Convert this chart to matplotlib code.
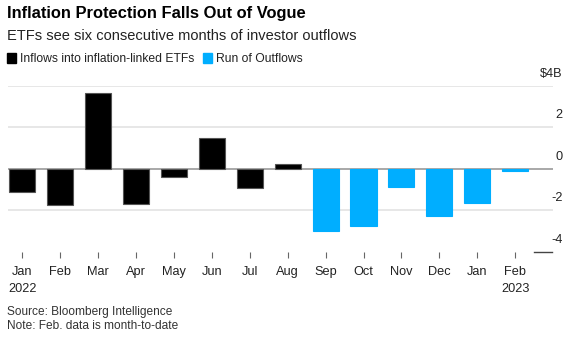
import matplotlib.pyplot as plt
import numpy as np

plt.rcParams['font.family'] = ['Liberation Sans', 'DejaVu Sans']

# Monthly net flows into inflation-linked ETFs, $ billions
months = ['Jan', 'Feb', 'Mar', 'Apr', 'May', 'Jun', 'Jul',
          'Aug', 'Sep', 'Oct', 'Nov', 'Dec', 'Jan', 'Feb']
years = ['2022', '', '', '', '', '', '', '', '', '', '', '', '', '2023']
flows = [-1.12, -1.76, 3.65, -1.68, -0.40, 1.49, -0.91,
         0.21, -3.00, -2.74, -0.86, -2.27, -1.63, -0.10]
# last six months are the outflow streak
outflow_run = [False] * 8 + [True] * 6

yticks = [4, 2, 0, -2, -4]
ylabels = ['$4B', '2', '0', '-2', '-4']

black = '#000000'
blue = '#00aeff'

fig = plt.figure(figsize=(5.68, 3.37), dpi=100)
ax = fig.add_axes([8 / 568, 1 - 251.7 / 337, 545 / 568, 166 / 337])

x = np.arange(len(flows))
colors = [blue if r else black for r in outflow_run]
edges = [blue if r else '#555555' for r in outflow_run]
ax.bar(x, flows, width=0.69, color=colors, edgecolor=edges, linewidth=0.8, zorder=3)

ax.set_xlim(-0.38, 14.0)
ax.set_ylim(-4, 4)

# gridlines and the zero line
for v in [4, 2, -2]:
    ax.axhline(v, color='#e3e3e3', linewidth=1.2, zorder=1)
ax.axhline(0, color='#999999', linewidth=1.2, zorder=2)
ax.plot([13.5, 13.98], [-4, -4], color='#444444', linewidth=1.0, clip_on=False)

for sp in ax.spines.values():
    sp.set_visible(False)

ax.set_yticks([])
ax.set_xticks(x)
ax.set_xticklabels([m + '\n' + y for m, y in zip(months, years)],
                   fontsize=9.2, color='#222222', linespacing=1.55, va='top')
ax.tick_params(axis='x', length=4.5, width=0.8, color='#666666', pad=6)

# value labels sit just above each gridline at the right edge
for v, s in zip(yticks, ylabels):
    ax.text(1.018, (v + 4) / 8 + 0.035, s, transform=ax.transAxes,
            ha='right', va='bottom', fontsize=9.2, color='#222222')

fig.text(7 / 568, 1 - 6 / 337, 'Inflation Protection Falls Out of Vogue',
         fontsize=11.9, fontweight='bold', ha='left', va='top')
fig.text(7 / 568, 1 - 29 / 337, 'ETFs see six consecutive months of investor outflows',
         fontsize=10.55, color='#222222', ha='left', va='top')

# legend
fig.patches.append(plt.Rectangle((7 / 568, 1 - 62.5 / 337), 9 / 568, 9 / 337,
                                 transform=fig.transFigure, color=black))
fig.text(20 / 568, 1 - 58.5 / 337, 'Inflows into inflation-linked ETFs',
         fontsize=8.75, color='#222222', ha='left', va='center')
fig.patches.append(plt.Rectangle((203 / 568, 1 - 62.5 / 337), 9 / 568, 9 / 337,
                                 transform=fig.transFigure, color=blue))
fig.text(216 / 568, 1 - 58.5 / 337, 'Run of Outflows',
         fontsize=8.75, color='#222222', ha='left', va='center')

fig.text(7 / 568, 1 - 312 / 337, 'Source: Bloomberg Intelligence',
         fontsize=8.6, color='#333333', ha='left', va='center')
fig.text(7 / 568, 1 - 326 / 337, 'Note: Feb. data is month-to-date',
         fontsize=8.6, color='#333333', ha='left', va='center')

fig.savefig('out.png', dpi=100)
